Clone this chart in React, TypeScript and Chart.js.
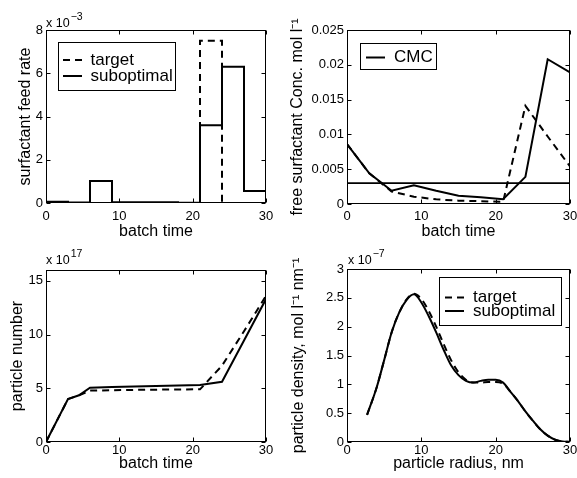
import React, { useEffect, useRef } from 'react';
import { Chart, registerables } from 'chart.js';

Chart.register(...registerables);

const W = 577;
const H = 478;
const FONT = '"Liberation Sans", Arial, Helvetica, sans-serif';

// ---------- Panel 1: surfactant feed rate (stairs) ----------
const feedTimes = [0, 3, 6, 9, 12, 15, 18, 21, 24, 27, 30];
const feedTarget = [0, 0, 0, 0, 0, 0, 0, 0.0075, 0, 0, 0];
const feedSubopt = [0.00006, 0.00002, 0.00102, 0.00004, 0.00004, 0.00004, 0.00001, 0.0036, 0.0063, 0.00055, 0.00055];
const feedYTicks = [0, 0.002, 0.004, 0.006, 0.008];

// ---------- Panel 2: free surfactant concentration ----------
const concTimes = [0, 3, 6, 9, 12, 15, 18, 21, 24, 27, 30];
const concTarget = [0.0086, 0.0044, 0.0018, 0.00105, 0.00067, 0.00048, 0.0004, 0.0003, 0.0141, 0.0097, 0.0054];
const concSubopt = [0.0086, 0.0044, 0.0019, 0.0027, 0.0019, 0.0012, 0.00096, 0.0007, 0.0039, 0.0208, 0.0189];
const cmcTimes = [0, 30];
const cmcConc = [0.003, 0.003];
const concYTicks = [0, 0.005, 0.01, 0.015, 0.02, 0.025];

// ---------- Panel 3: particle number ----------
const numTimes = [0, 3, 4.5, 6, 9, 12, 15, 18, 21, 24, 27, 30];
const numTarget = [0, 4.0e17, 4.35e17, 4.78e17, 4.82e17, 4.85e17, 4.87e17, 4.89e17, 4.9e17, 7.1e17, 10.3e17, 13.6e17];
const numSubopt = [0, 4.0e17, 4.35e17, 5.05e17, 5.12e17, 5.17e17, 5.22e17, 5.26e17, 5.3e17, 5.6e17, 9.45e17, 13.3e17];
const numYTicks = [0, 5e17, 10e17, 15e17];

// ---------- Panel 4: particle size distribution ----------
const radius = [2.7, 4, 5, 6, 7, 8, 9, 10, 11, 12, 13, 14, 15, 16, 17, 18, 19, 20, 21, 22, 23, 24, 25, 26, 27, 28, 29, 30];
const densTarget = [0.47, 0.95, 1.42, 1.9, 2.24, 2.47, 2.57, 2.48, 2.27, 2.0, 1.7, 1.42, 1.21, 1.08, 1.03, 1.03, 1.04, 1.04, 1.01, 0.87, 0.71, 0.53, 0.37, 0.22, 0.11, 0.04, 0.01, 0.0].map((v) => v * 1e-7);
const densSubopt = [0.47, 0.95, 1.42, 1.9, 2.24, 2.46, 2.56, 2.42, 2.18, 1.9, 1.6, 1.33, 1.16, 1.06, 1.03, 1.06, 1.08, 1.08, 1.03, 0.87, 0.71, 0.53, 0.37, 0.22, 0.11, 0.04, 0.01, 0.0].map((v) => v * 1e-7);
const densYTicks = [0, 0.5e-7, 1e-7, 1.5e-7, 2e-7, 2.5e-7, 3e-7];

const timeTicks = [0, 10, 20, 30];
const radiusTicks = [0, 10, 20, 30];

const legend12Labels = ['target', 'suboptimal'];
const legendCmcLabels = ['CMC'];

const DASH = [7, 5];

const pts = (xs: number[], ys: number[]) => xs.map((x, i) => ({ x, y: ys[i] }));
const fmt = (v: number, scale: number) => String(Math.round((v / scale) * 1000) / 1000);

type LegendItem = { label: string; dash: number[]; y: number };
type Panel = {
  area: { l: number; t: number; r: number; b: number };
  yTitleX: number;
  xTitleY: number;
  xTickPad: number;
  xTitle: string;
  yTitle: string;
  xMin: number;
  xMax: number;
  yMin: number;
  yMax: number;
  xTicks: number[];
  yTicks: number[];
  yScale: number;
  datasets: any[];
  exponent?: { x: number; y: number; sup: string };
  legend?: { box: [number, number, number, number]; lineX1: number; lineX2: number; textX: number; items: LegendItem[] };
};

const lineDs = (label: string, data: any[], dashed: boolean, extra: any = {}) => ({
  label,
  data,
  borderColor: '#000',
  backgroundColor: '#000',
  borderWidth: 2,
  borderDash: dashed ? DASH : [],
  pointRadius: 0,
  fill: false,
  tension: 0,
  ...extra,
});

const panels: Panel[] = [
  {
    area: { l: 46, t: 30, r: 266, b: 203 },
    yTitleX: 26,
    xTitleY: 232,
    xTickPad: 6,
    xTitle: 'batch time',
    yTitle: 'surfactant feed rate',
    xMin: 0, xMax: 30, yMin: 0, yMax: 0.008,
    xTicks: timeTicks, yTicks: feedYTicks, yScale: 1e-3,
    datasets: [
      lineDs(legend12Labels[0], pts(feedTimes, feedTarget), true, { stepped: 'before' }),
      lineDs(legend12Labels[1], pts(feedTimes, feedSubopt), false, { stepped: 'before' }),
    ],
    exponent: { x: 46, y: 26.5, sup: '\u22123' },
    legend: {
      box: [58.5, 42.5, 175.5, 90.5], lineX1: 63, lineX2: 82, textX: 90.5,
      items: [
        { label: legend12Labels[0], dash: DASH, y: 60 },
        { label: legend12Labels[1], dash: [], y: 76 },
      ],
    },
  },
  {
    area: { l: 347, t: 30, r: 570, b: 204 },
    yTitleX: 298,
    xTitleY: 232,
    xTickPad: 5,
    xTitle: 'batch time',
    yTitle: 'free surfactant Conc. mol l\u207B\u00B9',
    xMin: 0, xMax: 30, yMin: 0, yMax: 0.025,
    xTicks: timeTicks, yTicks: concYTicks, yScale: 1,
    datasets: [
      lineDs(legendCmcLabels[0], pts(cmcTimes, cmcConc), false, { borderWidth: 1.8 }),
      lineDs('target', pts(concTimes, concTarget), true),
      lineDs('suboptimal', pts(concTimes, concSubopt), false),
    ],
    legend: {
      box: [360.5, 43.5, 436.5, 69.5], lineX1: 366, lineX2: 385, textX: 394,
      items: [{ label: legendCmcLabels[0], dash: [], y: 57.5 }],
    },
  },
  {
    area: { l: 46, t: 270, r: 266, b: 442 },
    yTitleX: 17.5,
    xTitleY: 464,
    xTickPad: 0.5,
    xTitle: 'batch time',
    yTitle: 'particle number',
    xMin: 0, xMax: 30, yMin: 0, yMax: 16e17,
    xTicks: timeTicks, yTicks: numYTicks, yScale: 1e17,
    datasets: [
      lineDs('target', pts(numTimes, numTarget), true),
      lineDs('suboptimal', pts(numTimes, numSubopt), false),
    ],
    exponent: { x: 46, y: 264, sup: '17' },
  },
  {
    area: { l: 347, t: 269, r: 570, b: 442 },
    yTitleX: 299,
    xTitleY: 464,
    xTickPad: 0.5,
    xTitle: 'particle radius, nm',
    yTitle: 'particle density, mol l\u207B\u00B9 nm\u207B\u00B9',
    xMin: 0, xMax: 30, yMin: 0, yMax: 3e-7,
    xTicks: radiusTicks, yTicks: densYTicks, yScale: 1e-7,
    datasets: [
      lineDs(legend12Labels[0], pts(radius, densTarget), true, { cubicInterpolationMode: 'monotone' }),
      lineDs(legend12Labels[1], pts(radius, densSubopt), false, { cubicInterpolationMode: 'monotone' }),
    ],
    exponent: { x: 348, y: 264, sup: '\u22127' },
    legend: {
      box: [439.5, 277.5, 561.5, 325.5], lineX1: 445, lineX2: 464, textX: 473,
      items: [
        { label: legend12Labels[0], dash: DASH, y: 297.5 },
        { label: legend12Labels[1], dash: [], y: 311 },
      ],
    },
  },
];

const framePlugin = (p: Panel) => ({
  id: 'frameAndExtras',
  afterDraw(chart: any) {
    const { ctx, chartArea: a, scales } = chart;
    const xs = scales.x;
    const ys = scales.y;
    ctx.save();
    ctx.strokeStyle = '#000';
    ctx.lineWidth = 1;
    ctx.setLineDash([]);
    const L = Math.round(a.left) + 0.5;
    const R = Math.round(a.right) - 0.5;
    const T = Math.round(a.top) + 0.5;
    const B = Math.round(a.bottom) - 0.5;
    ctx.strokeRect(L, T, R - L, B - T);
    const tl = 4;
    ctx.beginPath();
    p.xTicks.forEach((v) => {
      const px = Math.round(xs.getPixelForValue(v)) + 0.5;
      ctx.moveTo(px, B);
      ctx.lineTo(px, B - tl);
      ctx.moveTo(px, T);
      ctx.lineTo(px, T + tl);
    });
    p.yTicks.forEach((v) => {
      const py = Math.round(ys.getPixelForValue(v)) + 0.5;
      ctx.moveTo(L, py);
      ctx.lineTo(L + tl, py);
      ctx.moveTo(R, py);
      ctx.lineTo(R - tl, py);
    });
    ctx.stroke();

    if (p.exponent) {
      ctx.fillStyle = '#000';
      ctx.textBaseline = 'alphabetic';
      ctx.textAlign = 'left';
      ctx.font = `12.5px ${FONT}`;
      const base = 'x 10';
      ctx.fillText(base, p.exponent.x, p.exponent.y);
      const w = ctx.measureText(base).width;
      ctx.font = `10.5px ${FONT}`;
      ctx.fillText(p.exponent.sup, p.exponent.x + w + 1, p.exponent.y - 7);
    }

    if (p.legend) {
      const lg = p.legend;
      const [x1, y1, x2, y2] = lg.box;
      ctx.fillStyle = '#fff';
      ctx.fillRect(x1, y1, x2 - x1, y2 - y1);
      ctx.strokeStyle = '#000';
      ctx.lineWidth = 1;
      ctx.strokeRect(x1, y1, x2 - x1, y2 - y1);
      lg.items.forEach((it) => {
        ctx.beginPath();
        ctx.lineWidth = 2;
        ctx.setLineDash(it.dash);
        ctx.moveTo(lg.lineX1, it.y);
        ctx.lineTo(lg.lineX2, it.y);
        ctx.stroke();
        ctx.setLineDash([]);
        ctx.fillStyle = '#000';
        ctx.font = `17px ${FONT}`;
        ctx.textAlign = 'left';
        ctx.textBaseline = 'middle';
        ctx.fillText(it.label, lg.textX, it.y);
      });
    }
    ctx.restore();
  },
});

function makeConfig(p: Panel): any {
  const titleHalf = (16 * 1.2) / 2;
  const yW = p.area.l - (p.yTitleX - titleHalf);
  const xH = p.xTitleY + titleHalf - p.area.b;
  return {
    type: 'line',
    data: { datasets: p.datasets },
    options: {
      animation: false,
      responsive: false,
      events: [],
      layout: {
        padding: {
          left: p.area.l - yW,
          top: p.area.t,
          right: W - p.area.r,
          bottom: H - p.area.b - xH,
        },
      },
      plugins: {
        legend: { display: false },
        tooltip: { enabled: false },
        title: { display: false },
      },
      scales: {
        x: {
          type: 'linear',
          min: p.xMin,
          max: p.xMax,
          grid: { display: false, drawTicks: false },
          border: { display: false },
          afterBuildTicks: (s: any) => {
            s.ticks = p.xTicks.map((v) => ({ value: v }));
          },
          afterFit: (s: any) => {
            s.height = xH;
            s.paddingLeft = 0;
            s.paddingRight = 0;
          },
          ticks: {
            padding: p.xTickPad,
            autoSkip: false,
            maxRotation: 0,
            color: '#000',
            font: { family: FONT, size: 13 },
            callback: (v: number) => String(v),
          },
          title: {
            display: true,
            text: p.xTitle,
            color: '#000',
            padding: 0,
            font: { family: FONT, size: 16 },
          },
        },
        y: {
          type: 'linear',
          min: p.yMin,
          max: p.yMax,
          grid: { display: false, drawTicks: false },
          border: { display: false },
          afterBuildTicks: (s: any) => {
            s.ticks = p.yTicks.map((v) => ({ value: v }));
          },
          afterFit: (s: any) => {
            s.width = yW;
            s.paddingTop = 0;
            s.paddingBottom = 0;
          },
          ticks: {
            padding: 3,
            autoSkip: false,
            color: '#000',
            font: { family: FONT, size: 13 },
            callback: (v: number) => fmt(v, p.yScale),
          },
          title: {
            display: true,
            text: p.yTitle,
            color: '#000',
            padding: 0,
            font: { family: FONT, size: 16 },
          },
        },
      },
    },
    plugins: [framePlugin(p)],
  };
}

function PanelChart({ panel }: { panel: Panel }) {
  const ref = useRef<HTMLCanvasElement | null>(null);
  useEffect(() => {
    if (!ref.current) return;
    const chart = new Chart(ref.current, makeConfig(panel));
    return () => chart.destroy();
  }, [panel]);
  return (
    <canvas
      ref={ref}
      width={W}
      height={H}
      style={{ position: 'absolute', left: 0, top: 0, width: W, height: H }}
    />
  );
}

export default function App() {
  return (
    <div style={{ position: 'absolute', left: 0, top: 0, width: W, height: H, background: '#fff' }}>
      {panels.map((p, i) => (
        <PanelChart key={i} panel={p} />
      ))}
    </div>
  );
}
